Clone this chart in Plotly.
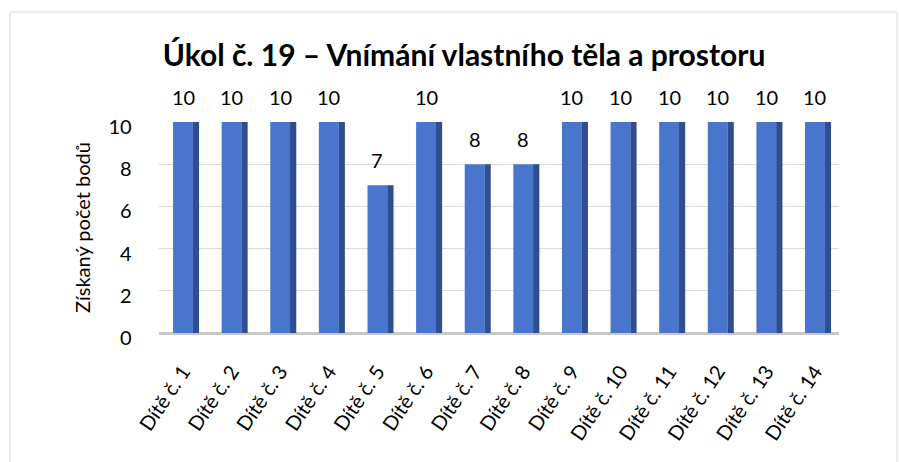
import plotly.graph_objects as go

categories = [f"Dítě č. {i}" for i in range(1, 15)]
points = [10, 10, 10, 10, 7, 10, 8, 8, 10, 10, 10, 10, 10, 10]
y_ticks = [0, 2, 4, 6, 8, 10]
title_text = "Úkol č. 19 – Vnímání vlastního těla a prostoru"
y_title = "Získaný počet bodů"

W, H = 899, 462
FONT = "Lato"

fig = go.Figure()
# side face (3D look)
fig.add_trace(go.Bar(
    x=categories, y=points, width=0.13, offset=0.2,
    marker=dict(color="#2F4E90", line=dict(width=0)),
    hoverinfo="skip", showlegend=False,
))
# front face
fig.add_trace(go.Bar(
    x=categories, y=points, width=0.41, offset=-0.205,
    marker=dict(color="#4A75CD", line=dict(width=0)),
    showlegend=False,
))

annotations = [
    dict(x=c, y=v, text=str(v), showarrow=False, yshift=25, xshift=0,
         font=dict(family=FONT, size=20, color="#000000"))
    for c, v in zip(categories, points)
]

x0_px, x1_px = 158.7, 839.3
y0_px, y1_px = 333, 122

fig.update_layout(
    width=W, height=H,
    margin=dict(l=0, r=0, t=0, b=0),
    paper_bgcolor="white", plot_bgcolor="white",
    barmode="overlay",
    title=dict(text=title_text, x=(163 + 765) / 2 / W, xanchor="center",
               y=1 - 55 / H, yanchor="middle",
               font=dict(family=FONT, size=30, color="#000000", weight="bold")),
    xaxis=dict(domain=[x0_px / W, x1_px / W], range=[-0.5, 13.5],
               type="category", tickangle=-56, showgrid=False,
               showline=False, ticks="", ticklabelstandoff=22,
               tickfont=dict(family=FONT, size=20, color="#000000"),
               automargin=False),
    yaxis=dict(domain=[1 - y0_px / H, 1 - y1_px / H], range=[0, 10],
               tickvals=y_ticks, showgrid=True, gridcolor="#D9D9D9",
               gridwidth=1, zeroline=True, zerolinecolor="#C8C8C8",
               zerolinewidth=3, showline=False, ticks="",
               ticklabelstandoff=26, ticklabelshift=5,
               tickfont=dict(family=FONT, size=20, color="#000000"),
               title=dict(text=y_title, standoff=12,
                          font=dict(family=FONT, size=20, color="#000000")),
               automargin=False),
    annotations=annotations,
    shapes=[dict(type="rect", xref="paper", yref="paper",
                 x0=10 / W, x1=897 / W, y0=-0.05, y1=1 - 12 / H,
                 line=dict(color="#D9D9D9", width=1), fillcolor="rgba(0,0,0,0)")],
)

fig.write_html("out.html", config={"displayModeBar": False},
               post_script="document.body.style.margin='0';document.body.style.padding='0';")
